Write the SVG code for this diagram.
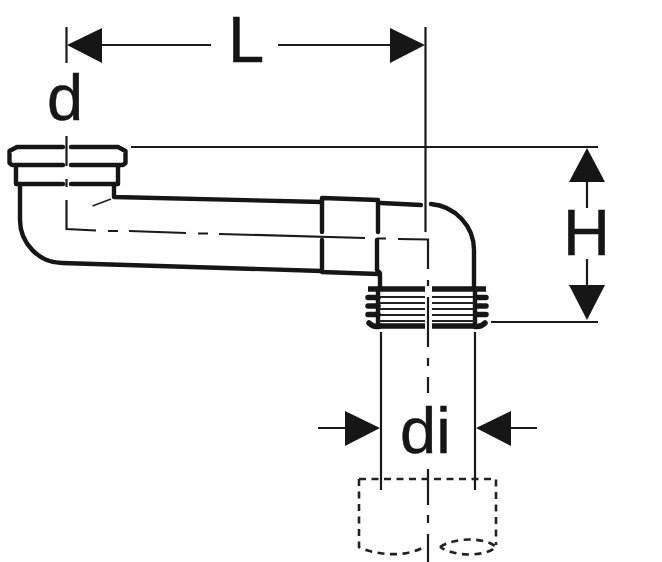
<svg xmlns="http://www.w3.org/2000/svg" width="662" height="562" viewBox="0 0 662 562">
<style>
.t{fill:none;stroke:#161616;stroke-width:4.4;stroke-linejoin:round;stroke-linecap:round}
.b{fill:none;stroke:#161616;stroke-width:5.500;stroke-linecap:butt}
.r{fill:none;stroke:#161616;stroke-width:5.500;stroke-linecap:round}
.m{fill:none;stroke:#1a1a1a;stroke-width:2.2}
.s{fill:none;stroke:#222;stroke-width:1.8}
.d{fill:none;stroke:#222;stroke-width:2.6;stroke-dasharray:7 5.500}
.a{fill:#161616}
.l{font-family:"Liberation Sans",Arial,sans-serif;font-size:65px;fill:#161616;stroke:#161616;stroke-width:.5}
</style>
<rect width="662" height="562" fill="#fff"/>
<g id="pipe">
<path class="t" d="M63 147H17L9.500 151V163L12 165H63M71 147H118L125.500 151V163L123 165H71"/>
<path class="t" d="M16 166V184H63M71 184H118V166"/>
<path class="t" d="M20 185V220C20 243 39 263 62 263L322 271"/>
<path class="t" d="M114 186V197L322 202"/>
<path class="t" d="M323 198L378 200V232M377 240V270L380 273V288M322 198V232M322 240V272L378 274"/>
<path class="t" d="M381 203L421 205M431 204C455 206 474 226 474 250V288"/>
<path class="b" d="M368 289H425M432 289H486M378 326H425M432 326H474"/>
<path class="t" d="M378 289V326M475 289V326"/>
<path class="s" d="M378 297H425M432 297H475M378 303H425M432 303H475M378 309H425M432 309H475M378 315H425M432 315H475M378 321H425M432 321H475"/>
<path class="r" d="M368 297.500H378M368 306H378M368 314.500H378M369 323C372 326 376 327 380 326M476 297.500H486M476 306H486M476 314.500H486M485 323C482 326 478 327 474 326"/>
<path class="s" d="M92.500 206L111 199"/>
</g>
<g id="connectors">
<path class="m" d="M66.500 27V63M66.500 136V166M66.500 179V187M66.500 200V229L96 230.500M108 231H118M129 231L186 233M198 233.500H208M219 234L365 238M377 238.500H386M398 239L428 239.500V269M428 280V286M428 297V347M428 358V366M428 377V393M428 469V505M428 515V523M428 534V562"/>
<path class="m" d="M425.500 27V232"/>
<path class="m" d="M131 147H598M491 322H598"/>
<path class="m" d="M381 332V490M475 332V490"/>
<path class="m" d="M102 45H211M278 45H390M587 182V208M587 259V285M318 428H345M511 428H537"/>
<path class="a" d="M67 45L102 28V63ZM425 45L390 28V63ZM587 148L569 182H605ZM587 320L569 285H605ZM380 428L345 411V446ZM476 428L511 411V446Z"/>
<path class="d" d="M359 479H496V545M359 479V547C375 555 405 558 424 547M440 547C455 537 485 537 496 547C485 557 455 557 440 547"/>
</g>
<g id="labels">
<text class="l" x="47" y="120">d</text>
<text class="l" x="228" y="62">L</text>
<text class="l" x="563" y="255">H</text>
<text class="l" x="400" y="453">di</text>
</g>
</svg>
